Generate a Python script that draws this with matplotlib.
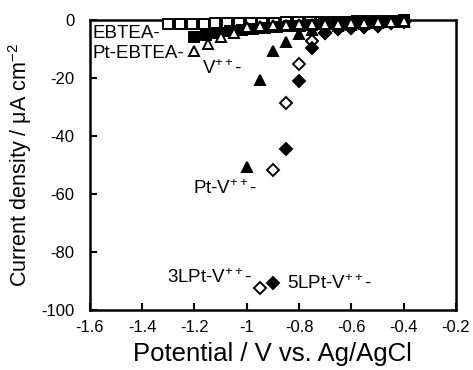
import matplotlib
matplotlib.use("Agg")
import matplotlib.pyplot as plt
import numpy as np

plt.rcParams['font.family'] = ['Liberation Sans', 'DejaVu Sans']
plt.rcParams['mathtext.fontset'] = 'custom'
plt.rcParams['mathtext.rm'] = 'Liberation Sans'
plt.rcParams['mathtext.it'] = 'Liberation Sans:italic'
plt.rcParams['mathtext.default'] = 'regular'

# EBTEA (open squares)
ebtea_x = [-1.3, -1.255, -1.21, -1.165, -1.12, -1.075, -1.03, -0.985, -0.94, -0.895, -0.85,
           -0.805, -0.76, -0.715, -0.67, -0.625, -0.58, -0.535, -0.49, -0.445, -0.4]
ebtea_y = [-1.3, -1.2, -1.2, -1.1, -1.0, -1.0, -0.9, -0.9, -0.8, -0.8, -0.7,
           -0.7, -0.6, -0.5, -0.5, -0.4, -0.3, -0.3, -0.2, -0.1, 0.0]
# Pt-EBTEA (filled squares)
ptebtea_x = [-1.2, -1.155, -1.11, -1.065, -1.02, -0.975, -0.93, -0.885, -0.84, -0.795,
             -0.75, -0.705, -0.66, -0.615, -0.57, -0.525, -0.48, -0.445, -0.42, -0.4]
ptebtea_y = [-5.6, -5.0, -4.3, -3.8, -3.3, -2.9, -2.6, -2.3, -2.0, -1.8,
             -1.6, -1.4, -1.2, -1.0, -0.9, -0.8, -0.6, -0.5, -0.4, -0.3]
# V++ (open triangles)
v_x = [-1.2, -1.15, -1.1, -1.05, -1.0, -0.95, -0.9, -0.85, -0.8, -0.75, -0.7, -0.65,
       -0.6, -0.55, -0.5, -0.45, -0.4]
v_y = [-10.6, -8.0, -5.6, -4.2, -2.2, -1.8, -1.6, -1.5, -1.4, -1.3, -1.2, -1.1,
       -1.0, -0.8, -0.6, -0.4, -0.2]
# Pt-V++ (filled triangles)
ptv_x = [-1.0, -0.95, -0.9, -0.85, -0.8, -0.75, -0.7, -0.65, -0.6, -0.55, -0.5, -0.45, -0.4]
ptv_y = [-50.6, -20.6, -10.7, -7.5, -4.7, -3.2, -2.4, -1.9, -1.5, -1.2, -0.9, -0.6, -0.4]
# 3LPt-V++ (open diamonds)
l3_x = [-0.95, -0.9, -0.85, -0.8, -0.75, -0.7, -0.65, -0.6, -0.55, -0.5, -0.45, -0.4]
l3_y = [-92.4, -51.7, -28.5, -15.0, -7.3, -4.3, -3.0, -2.7, -2.4, -2.1, -1.0, -0.5]
# 5LPt-V++ (filled diamonds)
l5_x = [-0.9, -0.85, -0.8, -0.75, -0.7, -0.65, -0.6, -0.55, -0.5, -0.45, -0.4]
l5_y = [-90.7, -44.5, -20.8, -9.6, -4.4, -3.0, -2.7, -2.4, -2.1, -1.0, -0.5]

xticks = [-1.6, -1.4, -1.2, -1.0, -0.8, -0.6, -0.4, -0.2]
xticklabels = ['-1.6', '-1.4', '-1.2', '-1', '-0.8', '-0.6', '-0.4', '-0.2']
yticks = [-100, -80, -60, -40, -20, 0]
yticklabels = ['-100', '-80', '-60', '-40', '-20', '0']

fig = plt.figure(figsize=(4.73, 3.70), dpi=100)
ax = fig.add_axes([0.190, 0.162, 0.774, 0.783])

mew = 1.4
kw = dict(linestyle='none', mec='black', mew=mew, clip_on=False)
ax.plot(ebtea_x, ebtea_y, 's', ms=6.5, mfc='white', zorder=3, **kw)
ax.plot(ptebtea_x, ptebtea_y, 's', ms=6.5, mfc='black', zorder=3, **kw)
ax.plot(ptv_x, ptv_y, '^', ms=7.5, mfc='black', zorder=4, **kw)
ax.plot(v_x, v_y, '^', ms=7, mfc='white', zorder=5, **kw)
ax.plot(l3_x, l3_y, 'D', ms=6.5, mfc='white', zorder=4, **kw)
ax.plot(l5_x, l5_y, 'D', ms=6.5, mfc='black', zorder=4.5, **kw)

ax.set_xlim(-1.6, -0.2)
ax.set_ylim(-100, 0)
ax.set_xticks(xticks)
ax.set_xticklabels(xticklabels)
ax.set_yticks(yticks)
ax.set_yticklabels(yticklabels)
ax.tick_params(direction='in', length=5, width=1.5, labelsize=12, top=False, right=False)
ax.tick_params(axis='x', pad=7)
ax.tick_params(axis='y', pad=11)
for s in ax.spines.values():
    s.set_linewidth(1.8)
    s.set_zorder(2)

ax.set_xlabel('Potential / V vs. Ag/AgCl', fontsize=18.5, labelpad=5)
ax.set_ylabel('Current density / μA cm$^{-2}$', fontsize=15.5, labelpad=5)

fs = 13.5
ax.text(-1.59, -4.4, 'EBTEA-', fontsize=fs, ha='left', va='center')
ax.text(-1.59, -11.4, 'Pt-EBTEA-', fontsize=fs, ha='left', va='center')
ax.text(-1.171, -16.5, 'V$^{++}$-', fontsize=fs, ha='left', va='center')
ax.text(-1.205, -58.0, 'Pt-V$^{++}$-', fontsize=fs, ha='left', va='center')
ax.text(-0.98, -88.7, '3LPt-V$^{++}$-', fontsize=fs, ha='right', va='center')
ax.text(-0.846, -90.8, '5LPt-V$^{++}$-', fontsize=fs, ha='left', va='center')

fig.savefig('out.png', dpi=100)
